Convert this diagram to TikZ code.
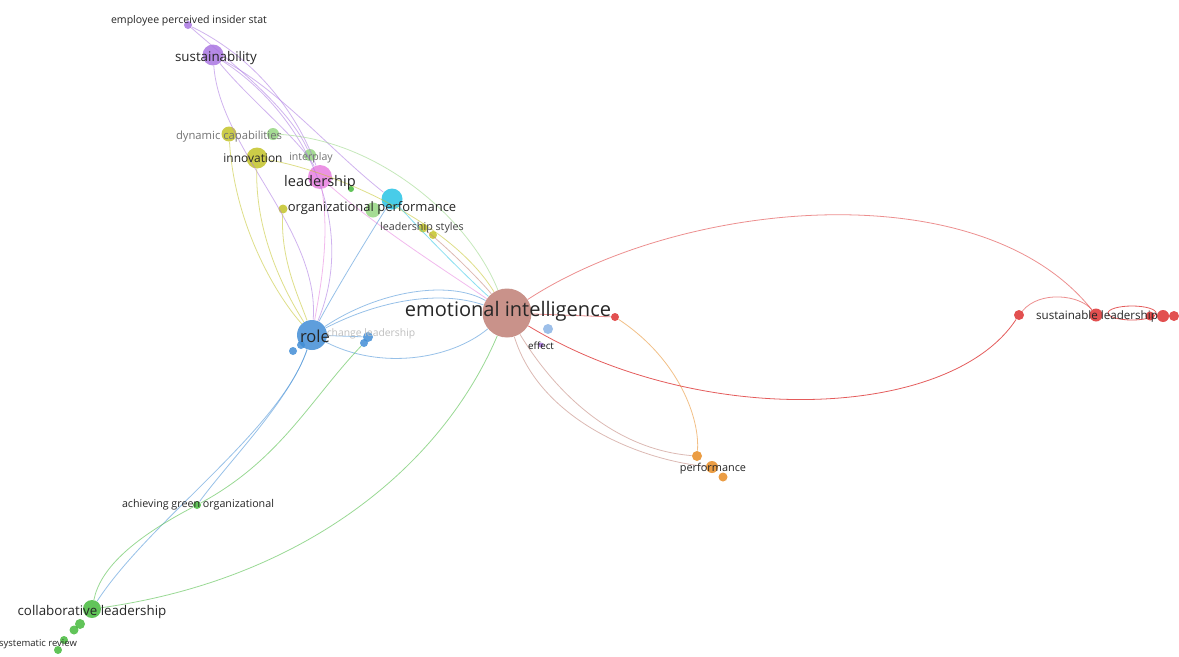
\documentclass[tikz,border=0pt]{standalone}
\usepackage{fontspec}
\setmainfont{Open Sans}
\begin{document}
\begin{tikzpicture}[x=0.02cm, y=-0.02cm]
	\tikzstyle{vertex}=[circle,inner sep=0pt,opacity=0.85]
	\tikzstyle{word}=[inner sep=0pt,text=black!85]
	\tikzstyle{faint}=[inner sep=0pt,text=black!25]
	\tikzstyle{link}=[line width=0.45pt,opacity=0.55]
	\definecolor{eicol}{RGB}{192,128,118}
	\definecolor{rolecol}{RGB}{66,142,214}
	\definecolor{leadcol}{RGB}{232,128,224}
	\definecolor{orgcol}{RGB}{40,196,230}
	\definecolor{innocol}{RGB}{196,196,40}
	\definecolor{sustcol}{RGB}{170,118,226}
	\definecolor{greencol}{RGB}{70,186,60}
	\definecolor{lgreen}{RGB}{150,214,130}
	\definecolor{redcol}{RGB}{222,50,50}
	\definecolor{orangecol}{RGB}{232,140,36}
	\definecolor{lblue}{RGB}{140,180,230}
	\useasboundingbox[fill=white] (0,0) rectangle (1179,656);

	% nodes
	\node[vertex,fill=eicol,minimum size=0.98cm] (Node-ei) at (507,313) {};
	\node[vertex,fill=rolecol,minimum size=0.6cm] (Node-role) at (312,335) {};
	\node[vertex,fill=rolecol,minimum size=0.16cm] (Node-role2) at (293,351) {};
	\node[vertex,fill=rolecol,minimum size=0.16cm] (Node-role3) at (301,345) {};
	\node[vertex,fill=rolecol,minimum size=0.2cm] (Node-change) at (368,337) {};
	\node[vertex,fill=rolecol,minimum size=0.16cm] (Node-change2) at (364,343) {};
	\node[vertex,fill=sustcol,minimum size=0.16cm] (Node-empl) at (188,25) {};
	\node[vertex,fill=sustcol,minimum size=0.42cm] (Node-sust) at (213,55) {};
	\node[vertex,fill=innocol,minimum size=0.3cm] (Node-dyn) at (229,134) {};
	\node[vertex,fill=lgreen,minimum size=0.24cm] (Node-lg1) at (273,134) {};
	\node[vertex,fill=innocol,minimum size=0.42cm] (Node-inno) at (257,158) {};
	\node[vertex,fill=lgreen,minimum size=0.24cm] (Node-inter) at (310,155) {};
	\node[vertex,fill=leadcol,minimum size=0.48cm] (Node-lead) at (320,177) {};
	\node[vertex,fill=greencol,minimum size=0.12cm] (Node-lg2) at (351,189) {};
	\node[vertex,fill=orgcol,minimum size=0.42cm] (Node-org) at (392,199) {};
	\node[vertex,fill=lgreen,minimum size=0.3cm] (Node-org2) at (373,210) {};
	\node[vertex,fill=innocol,minimum size=0.18cm] (Node-acad) at (283,209) {};
	\node[vertex,fill=innocol,minimum size=0.18cm] (Node-styl) at (423,228) {};
	\node[vertex,fill=innocol,minimum size=0.16cm] (Node-styl2) at (433,235) {};
	\node[vertex,fill=redcol,minimum size=0.16cm] (Node-ered) at (615,317) {};
	\node[vertex,fill=lblue,minimum size=0.2cm] (Node-lb) at (548,329) {};
	\node[vertex,fill=sustcol,minimum size=0.1cm] (Node-effect) at (541,345) {};
	\node[vertex,fill=redcol,minimum size=0.2cm] (Node-r1) at (1019,315) {};
	\node[vertex,fill=redcol,minimum size=0.26cm] (Node-sl) at (1096,315) {};
	\node[vertex,fill=redcol,minimum size=0.18cm] (Node-r3) at (1150,316) {};
	\node[vertex,fill=redcol,minimum size=0.24cm] (Node-r4) at (1163,316) {};
	\node[vertex,fill=redcol,minimum size=0.2cm] (Node-r5) at (1174,316) {};
	\node[vertex,fill=orangecol,minimum size=0.2cm] (Node-p1) at (697,456) {};
	\node[vertex,fill=orangecol,minimum size=0.24cm] (Node-perf) at (712,467) {};
	\node[vertex,fill=orangecol,minimum size=0.18cm] (Node-p3) at (723,477) {};
	\node[vertex,fill=greencol,minimum size=0.16cm] (Node-green) at (197,505) {};
	\node[vertex,fill=greencol,minimum size=0.36cm] (Node-collab) at (92,609) {};
	\node[vertex,fill=greencol,minimum size=0.2cm] (Node-c2) at (80,624) {};
	\node[vertex,fill=greencol,minimum size=0.18cm] (Node-c3) at (74,630) {};
	\node[vertex,fill=greencol,minimum size=0.16cm] (Node-c4) at (64,640) {};
	\node[vertex,fill=greencol,minimum size=0.16cm] (Node-sys) at (58,650) {};

	% links
	\draw[link,sustcol] (Node-empl) .. controls (260,60) and (300,120) .. (Node-lead);
	\draw[link,sustcol] (Node-empl) .. controls (240,70) and (290,110) .. (Node-inter);
	\draw[link,sustcol] (Node-sust) .. controls (280,90) and (330,150) .. (Node-org);
	\draw[link,sustcol] (Node-sust) .. controls (250,100) and (300,140) .. (Node-lead);
	\draw[link,sustcol] (Node-sust) .. controls (220,150) and (320,230) .. (Node-role);
	\draw[link,sustcol] (Node-sust) .. controls (300,110) and (360,220) .. (Node-role);
	\draw[link,innocol] (Node-inno) .. controls (255,240) and (290,300) .. (Node-role);
	\draw[link,innocol] (Node-dyn) .. controls (235,230) and (280,300) .. (Node-role);
	\draw[link,innocol] (Node-acad) .. controls (280,260) and (300,300) .. (Node-role);
	\draw[link,innocol] (Node-inno) .. controls (330,170) and (450,220) .. (Node-ei);
	\draw[link,lgreen] (Node-lg1) .. controls (380,140) and (470,220) .. (Node-ei);
	\draw[link,leadcol] (Node-lead) .. controls (380,230) and (460,280) .. (Node-ei);
	\draw[link,leadcol] (Node-lead) .. controls (330,240) and (320,290) .. (Node-role);
	\draw[link,orgcol] (Node-org) .. controls (430,240) and (470,280) .. (Node-ei);
	\draw[link,rolecol] (Node-org) .. controls (360,250) and (330,300) .. (Node-role);
	\draw[link,eicol] (Node-styl) .. controls (450,250) and (480,280) .. (Node-ei);
	\draw[link,rolecol] (Node-role) .. controls (380,290) and (450,280) .. (Node-ei);
	\draw[link,rolecol] (Node-role) .. controls (380,300) and (440,290) .. (Node-ei);
	\draw[link,rolecol] (Node-role) .. controls (380,370) and (450,360) .. (Node-ei);
	\draw[link,rolecol] (Node-role) -- (Node-change);
	\draw[link,rolecol] (Node-role) .. controls (290,400) and (230,460) .. (Node-green);
	\draw[link,rolecol] (Node-role) .. controls (280,430) and (150,520) .. (Node-collab);
	\draw[link,greencol] (Node-green) .. controls (130,540) and (100,570) .. (Node-collab);
	\draw[link,greencol] (Node-green) .. controls (280,460) and (310,400) .. (Node-change2);
	\draw[link,greencol] (Node-collab) .. controls (300,580) and (440,470) .. (Node-ei);
	\draw[link,eicol] (Node-ei) .. controls (560,400) and (620,450) .. (Node-p1);
	\draw[link,eicol] (Node-ei) .. controls (540,420) and (640,460) .. (Node-perf);
	\draw[link,orangecol] (Node-ered) .. controls (680,360) and (700,420) .. (Node-p1);
	\draw[link,redcol] (Node-ei) -- (Node-ered);
	\draw[link,redcol] (Node-ei) .. controls (680,200) and (980,170) .. (Node-sl);
	\draw[link,redcol,opacity=0.8] (Node-ei) .. controls (700,430) and (950,420) .. (Node-r1);
	\draw[link,redcol] (Node-r1) .. controls (1040,290) and (1080,295) .. (Node-sl);
	\draw[link,redcol,opacity=0.8] (1132,313) ellipse (24 and 7);

	% labels
	\node[word,font=\fontsize{6.0}{7}\selectfont] (Label-empl) at (189,21) {employee perceived insider stat};
	\node[word,font=\fontsize{7.6}{9}\selectfont] (Label-sust) at (216,58) {sustainability};
	\node[faint,text=black!55,font=\fontsize{6.4}{7}\selectfont] (Label-dyn) at (229,137) {dynamic capabilities};
	\node[word,font=\fontsize{6.8}{8}\selectfont] (Label-inno) at (253,158) {innovation};
	\node[faint,text=black!55,font=\fontsize{6}{7}\selectfont] (Label-inter) at (311,158) {interplay};
	\node[word,font=\fontsize{8.3}{10}\selectfont] (Label-lead) at (320,183) {leadership};
	\node[word,font=\fontsize{7.4}{9}\selectfont] (Label-org) at (372,208) {organizational performance};
	\node[word,text=black!75,font=\fontsize{6.1}{7}\selectfont] (Label-styl) at (422,228) {leadership styles};
	\node[word,font=\fontsize{11.4}{13}\selectfont] (Label-ei) at (508,311) {emotional intelligence};
	\node[word,font=\fontsize{9.4}{11}\selectfont] (Label-role) at (315,336) {role};
	\node[faint,font=\fontsize{5.9}{7}\selectfont] (Label-change) at (371,334) {change leadership};
	\node[word,text=black!90,font=\fontsize{5.6}{6}\selectfont] (Label-effect) at (541,346) {effect};
	\node[word,font=\fontsize{6.6}{8}\selectfont] (Label-sl) at (1097,316) {sustainable leadership};
	\node[word,font=\fontsize{6.2}{7}\selectfont] (Label-perf) at (713,469) {performance};
	\node[word,font=\fontsize{6.1}{7}\selectfont] (Label-green) at (198,505) {achieving green organizational};
	\node[word,font=\fontsize{7.6}{9}\selectfont] (Label-collab) at (92,612) {collaborative leadership};
	\node[word,font=\fontsize{5.4}{6}\selectfont] (Label-sys) at (38,644) {systematic review};
\end{tikzpicture}
\end{document}
